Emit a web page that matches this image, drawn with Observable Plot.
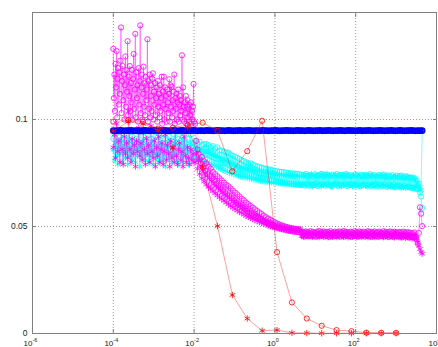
<!DOCTYPE html>
<html><head><meta charset="utf-8">
<script src="https://cdn.jsdelivr.net/npm/d3@7"></script>
<script src="https://cdn.jsdelivr.net/npm/@observablehq/plot@0.6"></script>
<style>
html,body{margin:0;padding:0;background:#fff;}
#chart{width:438px;height:347px;overflow:hidden;}
</style></head><body><div id="chart"></div>
<script>
// axis ticks
const xTicks = [1e-6, 1e-4, 1e-2, 1e0, 1e2, 1e4];
const yTicks = [0, 0.05, 0.1];
const yGrid = [0.05, 0.1];

// sampling grids (log-spaced, as in the original run)
const logspace = (a, b, n) => d3.range(n).map(i => 10 ** (a + i * (b - a) / (n - 1)));
const denseX = logspace(-4, 3.645, 280);                       // cyan & magenta series
const magentaCircleX = [...logspace(-4, -2, 148), ...denseX.slice(74)]; // finer sampling in the noisy part
const blueX  = logspace(-4, 3.645, 140);                       // blue series
const redX   = logspace(-4, 3, 20);                            // red series

const blueCircles = [
.0948,.0947,.0948,.0949,.0948,.0947,.0948,.0948,.0949,.0947,
.0948,.0948,.0947,.0948,.0949,.0948,.0947,.0948,.0948,.0949,
.0947,.0948,.0948,.0949,.0948,.0947,.0948,.0949,.0948,.0947,
.0948,.0949,.0948,.0947,.0948,.0948,.0949,.0948,.0947,.0948,
.0948,.0947,.0949,.0948,.0948,.0947,.0948,.0949,.0948,.0948,
.0947,.0948,.0949,.0948,.0947,.0948,.0948,.0949,.0947,.0948,
.0948,.0949,.0948,.0947,.0948,.0948,.0947,.0949,.0948,.0948,
.0947,.0948,.0948,.0949,.0948,.0947,.0948,.0948,.0949,.0948,
.0948,.0947,.0948,.0949,.0948,.0948,.0947,.0948,.0949,.0948,
.0947,.0948,.0948,.0949,.0947,.0948,.0948,.0949,.0948,.0947,
.0948,.0948,.0949,.0948,.0947,.0948,.0949,.0948,.0948,.0947,
.0948,.0949,.0947,.0948,.0948,.0949,.0948,.0947,.0948,.0948,
.0949,.0948,.0947,.0948,.0948,.0949,.0948,.0947,.0948,.0949,
.0948,.0947,.0948,.0948,.0949,.0948,.0947,.0948,.0948,.0948];

const cyanCircles = [
.091,.086,.093,.088,.084,.090,.092,.087,.085,.091,
.089,.084,.093,.086,.090,.088,.083,.092,.087,.090,
.085,.091,.088,.094,.086,.089,.084,.092,.087,.085,
.090,.093,.086,.088,.084,.091,.089,.085,.092,.087,
.090,.083,.088,.093,.086,.089,.085,.091,.087,.084,
.092,.088,.086,.090,.084,.093,.087,.089,.085,.091,
.088,.084,.092,.086,.090,.087,.085,.091,.088,.086,
.093,.087,.089,.085,
.090,.085,.089,.0855,.0895,.0845,.088,.085,.0885,.0835,
.0885,.0835,.088,.083,.087,.0825,.0875,.082,.0865,.0815,
.087,.0815,.0855,.080,.0855,.0795,.085,.0795,.0845,.079,
.0845,.0785,.0835,.078,.083,.0775,.0825,.077,.082,.0765,
.0815,.0765,.081,.076,.0805,.0755,.080,.075,.0795,.0745,
.0795,.0745,.079,.074,.0785,.0735,.078,.073,.0778,.0728,
.0775,.0728,.0772,.0722,.077,.072,.0768,.0718,.0765,.0715,
.0763,.0713,.076,.0712,.0758,.071,.0756,.0708,.0755,.0705,
.0754,.0703,.0752,.0702,.0750,.0700,.0749,.0698,.0748,.0697,
.0747,.0696,.0746,.0695,.0745,.0694,
.0742,.0696,.0738,.0692,.0745,.0699,.0736,.0690,.0741,.0697,
.0733,.0694,.0744,.0701,.0737,.0689,.0740,.0695,.0746,.0698,
.0735,.0691,.0743,.0700,.0739,.0693,.0736,.0688,.0742,.0696,
.0734,.0702,.0745,.0690,.0738,.0697,.0741,.0692,.0733,.0699,
.0744,.0689,.0737,.0695,.0740,.0701,.0735,.0690,.0743,.0694,
.0739,.0697,.0732,.0688,.0742,.0693,.0736,.0699,.0741,.0691,
.0734,.0696,.0744,.0689,.0738,.0694,.0740,.0700,.0733,.0687,
.0741,.0695,.0736,.0690,.0743,.0698,.0731,.0686,.0739,.0693,
.0735,.0689,.0740,.0696,.0730,.0685,.0737,.0692,.0733,.0688,
.0738,.0684,.0729,.0690,.0735,.0683,.0731,.0687,.0727,.0682,
.0730,.0680,.0726,.0678,
.0715,.0675,.0700,.0660,.0640,.0587];

const cyanStars = [
.086,.081,.089,.083,.079,.087,.084,.090,.080,.085,
.088,.082,.086,.079,.090,.083,.087,.081,.085,.089,
.080,.086,.083,.088,.078,.085,.090,.082,.087,.081,
.084,.089,.080,.086,.083,.088,.079,.085,.091,.082,
.087,.080,.084,.089,.081,.086,.083,.078,.088,.085,
.082,.090,.084,.080,.087,.083,.089,.081,.085,.079,
.088,.083,.086,.080,.090,.084,.082,.087,.079,.085,
.089,.082,.086,.083,
.087,.082,.0865,.0815,.086,.081,.0855,.0805,.085,.080,
.0855,.080,.085,.0795,.0845,.079,.084,.0785,.0835,.078,
.083,.0775,.0825,.077,.082,.0765,.0815,.076,.081,.0755,
.0805,.075,.080,.0748,.0795,.0745,.079,.074,.0785,.0738,
.078,.0735,.0778,.0732,.0775,.073,.0772,.0728,.077,.0725,
.0768,.0722,.0765,.072,.0762,.0718,.076,.0716,.0758,.0714,
.0755,.0712,.0752,.071,.075,.0709,.0748,.0707,.0746,.0706,
.0745,.0705,.0744,.0704,.0743,.0703,.0742,.0702,.0741,.0701,
.0740,.0700,.0739,.0699,.0739,.0698,.0738,.0698,.0737,.0697,
.0737,.0696,.0736,.0696,.0736,.0695,
.0693,.0739,.0697,.0743,.0690,.0736,.0699,.0741,.0694,.0745,
.0688,.0737,.0696,.0742,.0691,.0734,.0700,.0744,.0689,.0738,
.0695,.0740,.0692,.0746,.0698,.0735,.0687,.0741,.0694,.0737,
.0701,.0743,.0690,.0736,.0696,.0739,.0688,.0742,.0693,.0734,
.0699,.0745,.0691,.0738,.0695,.0733,.0689,.0740,.0697,.0736,
.0692,.0742,.0688,.0737,.0694,.0731,.0698,.0739,.0690,.0735,
.0686,.0741,.0693,.0734,.0697,.0738,.0689,.0732,.0695,.0740,
.0691,.0736,.0685,.0739,.0692,.0733,.0688,.0737,.0684,.0730,
.0690,.0735,.0686,.0731,.0683,.0736,.0689,.0729,.0685,.0733,
.0682,.0730,.0686,.0727,.0681,.0732,.0684,.0726,.0680,.0728,
.0679,.0725,.0677,.0722,
.0690,.0705,.0672,.0685,.0670,.0950];

const magentaCircles = [
.133,.110,.121,.104,.126,.115,.132,.101,.119,.124,
.107,.122,.112,.1275,.143,.103,.118,.125,.109,.121,
.100,.116,.1295,.106,.123,.113,.1366,.102,.120,.111,
.125,.104,.117,.108,.1232,.100,.119,.1306,.105,.114,
.140,.101,.122,.110,.116,.099,.124,.107,.118,.144,
.103,.115,.121,.100,.112,.1247,.106,.117,.102,.120,
.109,.114,.1375,.099,.118,.105,.121,.101,.111,.116,
.104,.119,.1216,.100,.113,.107,.117,.102,.110,.115,
.099,.118,.106,.112,.101,.116,.104,.110,.120,.098,
.113,.107,.120,.100,.115,.105,.111,.099,.114,.108,
.103,.112,.1188,.099,.116,.106,.1153,.101,.109,.104,
.113,.121,.098,.110,.105,.112,.100,.108,.114,.099,
.107,.111,.102,.109,.104,.130,.100,.115,.106,.099,
.108,.103,.111,.098,.106,.109,.101,.105,.099,.1067,
.102,.108,.098,.104,.100,.106,.1166,.099,
.098,.090,.086,.084,.0815,.0795,.0825,.0775,.0805,.0760,
.0795,.0745,.0780,.0735,.0770,.0725,.0755,.0715,.0745,.0700,
.0735,.0690,.0725,.0680,.0715,.0670,.0705,.0660,.0695,.0650,
.0688,.0642,.0678,.0632,.0668,.0622,.0658,.0612,.0650,.0604,
.0640,.0596,.0630,.0588,.0622,.0580,.0612,.0572,.0604,.0564,
.0596,.0558,.0588,.0552,.0580,.0545,.0572,.0540,.0565,.0534,
.0558,.0528,.0550,.0522,.0543,.0516,.0537,.0510,.0531,.0506,
.0525,.0501,.0519,.0497,.0514,.0493,.0510,.0490,.0506,.0487,
.0502,.0485,.0499,.0482,.0496,.0480,.0493,.0478,.0491,.0476,
.0489,.0475,.0487,.0474,.0486,.0473,
.0476,.0456,.0474,.0453,.0477,.0457,.0473,.0455,.0478,.0454,
.0475,.0458,.0472,.0452,.0476,.0456,.0479,.0455,.0473,.0457,
.0477,.0453,.0474,.0456,.0475,.0451,.0478,.0457,.0472,.0454,
.0476,.0455,.0473,.0458,.0477,.0452,.0474,.0456,.0479,.0453,
.0475,.0457,.0472,.0454,.0476,.0451,.0473,.0456,.0478,.0455,
.0474,.0452,.0477,.0457,.0473,.0455,.0476,.0453,.0472,.0456,
.0478,.0454,.0475,.0451,.0474,.0457,.0477,.0455,.0473,.0452,
.0476,.0456,.0472,.0454,.0478,.0453,.0475,.0457,.0473,.0451,
.0477,.0455,.0474,.0452,.0476,.0456,.0472,.0454,.0475,.0453,
.0473,.0450,.0476,.0455,.0472,.0452,.0474,.0449,.0471,.0451,
.0470,.0448,.0472,.0450,
.0440,.0420,.0470,.0590,.0560,.0502];

const magentaStars = [
.087,.093,.082,.098,.085,.090,.080,.095,.086,.079,
.092,.084,.089,.082,.104,.086,.080,.091,.084,.088,
.078,.090,.085,.096,.083,.089,.081,.094,.086,.079,
.091,.084,.088,.080,.097,.085,.082,.090,.078,.087,
.083,.092,.080,.086,.089,.079,.085,.093,.081,.088,
.084,.078,.090,.082,.087,.080,.095,.083,.079,.086,
.089,.081,.085,.078,.092,.083,.080,.087,.082,.079,
.086,.081,.084,.080,
.080,.084,.077,.081,.0745,.0785,.0725,.0765,.0710,.0750,
.0695,.0738,.0685,.0725,.0675,.0712,.0665,.0700,.0655,.0690,
.0645,.0680,.0636,.0670,.0628,.0660,.0620,.0650,.0612,.0642,
.0604,.0634,.0596,.0626,.0589,.0618,.0582,.0610,.0575,.0602,
.0568,.0595,.0562,.0588,.0556,.0580,.0550,.0573,.0545,.0566,
.0540,.0560,.0535,.0554,.0530,.0548,.0525,.0542,.0520,.0537,
.0516,.0532,.0512,.0527,.0508,.0522,.0504,.0518,.0501,.0514,
.0498,.0510,.0495,.0507,.0492,.0504,.0490,.0501,.0488,.0499,
.0486,.0497,.0484,.0495,.0482,.0493,.0480,.0491,.0478,.0490,
.0477,.0489,.0476,.0488,.0475,.0487,
.0455,.0473,.0452,.0470,.0457,.0474,.0453,.0471,.0456,.0468,
.0452,.0472,.0458,.0469,.0454,.0475,.0451,.0470,.0456,.0473,
.0453,.0468,.0457,.0474,.0450,.0471,.0455,.0469,.0452,.0473,
.0456,.0470,.0451,.0475,.0454,.0468,.0458,.0472,.0452,.0469,
.0455,.0474,.0450,.0470,.0457,.0471,.0453,.0468,.0456,.0473,
.0451,.0469,.0455,.0474,.0452,.0470,.0457,.0467,.0454,.0472,
.0450,.0471,.0456,.0468,.0453,.0474,.0451,.0469,.0455,.0470,
.0452,.0473,.0457,.0467,.0450,.0471,.0454,.0469,.0451,.0472,
.0455,.0468,.0452,.0470,.0449,.0473,.0453,.0467,.0450,.0469,
.0448,.0466,.0451,.0468,.0447,.0465,.0449,.0467,.0446,.0464,
.0445,.0463,.0444,.0460,
.0445,.0425,.0410,.0395,.0380,.0373];

const redStars = [.0946,.0990,.0980,.0950,.0867,.0966,.0777,.0502,.0180,.0070,
                  .0013,.0016,.0003,.0002,.0001,.0001,.0001,.0001,.0001,.0001];
const redCircles = [.0990,.0997,.0990,.0958,.0962,.0974,.0985,.0947,.0758,.0852,
                    .0994,.0380,.0145,.0070,.0036,.0016,.0011,.0004,.0003,.0003];

const X = (d, i) => denseX[i];
const MX = (d, i) => magentaCircleX[i];
const BX = (d, i) => blueX[i];
const RX = (d, i) => redX[i];
const Y = d => d;

function series(data, xf, color, symbol, r, lineOpacity, dotWidth = 0.8) {
  return [
    Plot.line(data, {x: xf, y: Y, stroke: color, strokeWidth: 0.7, strokeOpacity: lineOpacity}),
    Plot.dot(data, {x: xf, y: Y, stroke: color, fill: "none", symbol, r, strokeWidth: dotWidth})
  ];
}

const axisColor = "#808080";
const chart = Plot.plot({
  width: 438, height: 347,
  marginLeft: 32, marginRight: 2, marginTop: 12, marginBottom: 14,
  style: {fontFamily: "'Liberation Sans', Arial, Helvetica, sans-serif", fontSize: "8.5px", background: "#fff"},
  x: {type: "log", domain: [1e-6, 1e4]},
  y: {domain: [0, 0.15]},
  marks: [
    Plot.gridX(xTicks, {stroke: "#9a9a9a", strokeOpacity: 1, strokeDasharray: "1,2"}),
    Plot.gridY(yGrid, {stroke: "#9a9a9a", strokeOpacity: 1, strokeDasharray: "1,2"}),
    ...series(cyanStars, X, "#00ffff", "asterisk", 3, 0.7),
    ...series(cyanCircles, X, "#00ffff", "circle", 2.6, 0.7),
    ...series(magentaCircles, MX, "#ff00ff", "circle", 2.6, 0.6),
    ...series(magentaStars, X, "#ff00ff", "asterisk", 3, 0.6),
    ...series(blueCircles, BX, "#0000ff", "circle", 2.3, 1, 2),
    ...series(redStars, RX, "#ff0000", "asterisk", 3, 0.55),
    ...series(redCircles, RX, "#ff0000", "circle", 2.6, 0.55),
    Plot.frame({stroke: axisColor}),
    Plot.axisX(xTicks, {anchor: "bottom", tickSize: 4, dy: -4, tickFormat: () => "", stroke: axisColor, label: null}),
    Plot.axisX(xTicks, {anchor: "top", tickSize: 4, dy: 4, tickFormat: () => "", stroke: axisColor, label: null}),
    Plot.axisY(yTicks, {anchor: "left", tickSize: 4, dx: 4, tickFormat: () => "", stroke: axisColor, label: null}),
    Plot.axisY(yTicks, {anchor: "right", tickSize: 4, dx: -4, tickFormat: () => "", stroke: axisColor, label: null}),
    Plot.axisX(xTicks, {anchor: "bottom", tickSize: 0, tickPadding: 6.5, dx: -2, fill: "#222", fontSize: 8, label: null,
      tickFormat: d => "10^" + Math.round(Math.log10(d))}),
    Plot.axisY(yTicks, {anchor: "left", tickSize: 0, tickPadding: 5, fill: "#222", label: null,
      tickFormat: d => String(d)})
  ]
});

chart.querySelectorAll("text").forEach(t => {
  const m = /^10\^(-?\d+)$/.exec(t.textContent);
  if (m) {
    t.textContent = "10";
    const s = document.createElementNS("http://www.w3.org/2000/svg", "tspan");
    s.setAttribute("dy", "-3.5");
    s.setAttribute("font-size", "5.5");
    s.textContent = m[1];
    t.appendChild(s);
  }
});
document.getElementById("chart").appendChild(chart);
</script>
</body></html>
